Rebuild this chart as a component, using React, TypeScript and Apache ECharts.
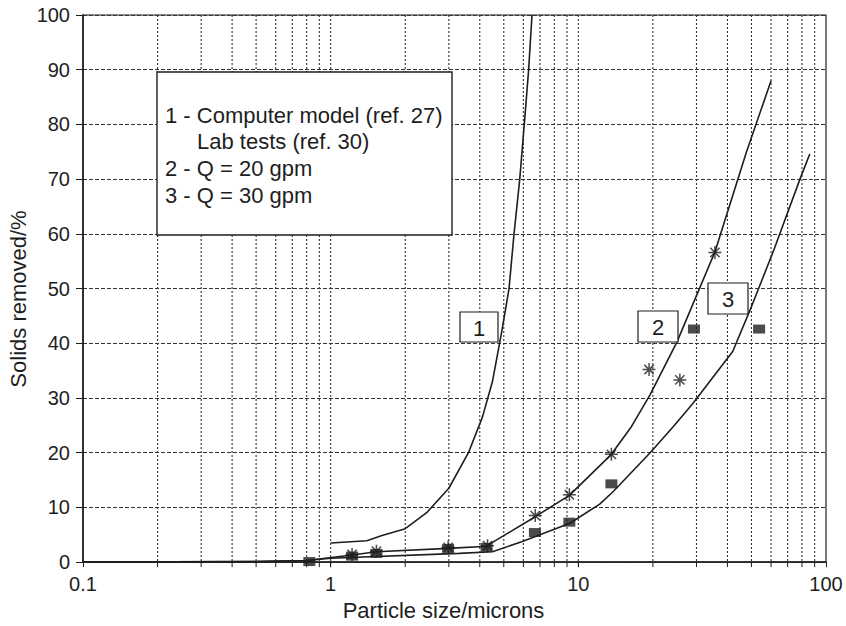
import React, { useEffect, useRef } from "react";
import * as echarts from "echarts";

// Curve 1 – computer model
const curve1X = [1, 1.4, 1.6, 2, 2.45, 3, 3.6, 4.1, 4.5, 4.9, 5.25, 5.5, 5.8, 6.05, 6.3, 6.5];
const curve1Y = [3.5, 3.9, 4.8, 6.1, 9.1, 13.5, 20, 26.5, 33, 42, 50, 60, 70, 80, 90, 100];

// Curve 2 – Q = 20 gpm
const curve2X = [0.1, 0.5, 0.8, 1.22, 1.53, 2.98, 4.3, 4.5, 6.7, 9.2, 13.6, 16.4, 19.5, 25, 35.6, 47.7, 60];
const curve2Y = [0, 0.1, 0.3, 1.3, 1.9, 2.5, 2.9, 3.6, 8.3, 12.2, 19.7, 24.8, 30.6, 40.2, 56.7, 74.9, 88];

// Curve 3 – Q = 30 gpm
const curve3X = [0.1, 0.5, 0.8, 1, 3.3, 4.5, 5.9, 9.25, 12.2, 13.9, 19.5, 24.2, 29, 42, 49.3, 62, 78.5, 86];
const curve3Y = [0, 0.1, 0.3, 0.7, 1.6, 1.9, 3.7, 7.1, 10.6, 13, 20, 24.8, 29, 38.5, 46, 57.4, 70, 74.6];

// Lab tests (ref. 30)
const starX = [1.22, 1.53, 2.98, 4.3, 6.7, 9.2, 13.6, 19.3, 25.7, 35.6];
const starY = [1.4, 2.0, 2.7, 3.0, 8.5, 12.3, 19.7, 35.2, 33.3, 56.6];
const squareX = [0.82, 1.22, 1.53, 2.98, 4.26, 6.68, 9.2, 13.6, 29.3, 53.7];
const squareY = [0.1, 1.1, 1.6, 2.5, 2.7, 5.4, 7.3, 14.3, 42.6, 42.6];

// Vertical (log) grid lines
const xGridValues = [0.2, 0.3, 0.4, 0.5, 0.6, 0.7, 0.8, 0.9, 1, 2, 3, 4, 5, 6, 7, 8, 9, 10, 20, 30, 40, 50, 60, 70, 80, 90];

const legendLines = [
  "1 - Computer model (ref. 27)",
  "Lab tests (ref. 30)",
  "2 - Q = 20 gpm",
  "3 - Q = 30 gpm",
];
const curveLabels = ["1", "2", "3"];
const yAxisTitle = "Solids removed/%";
const xAxisTitle = "Particle size/microns";

const FONT = "'Liberation Sans', Arial, Helvetica, sans-serif";
const INK = "#1e1e1e";

const zip = (xs: number[], ys: number[]) => xs.map((x, i) => [x, ys[i]]);

const starPath = "path://M0,-6L0,6M-6,0L6,0M-4.3,-4.3L4.3,4.3M-4.3,4.3L4.3,-4.3";

export default function App() {
  const ref = useRef<HTMLDivElement>(null);
  useEffect(() => {
    document.body.style.margin = "0";
    if (!ref.current) return;
    const chart = echarts.init(ref.current, null, { renderer: "svg" });
    const lineStyle = { color: INK, width: 1.6 };
    chart.setOption({
      animation: false,
      backgroundColor: "#ffffff",
      grid: {
        left: 83,
        right: 20,
        top: 15,
        bottom: 59,
        show: true,
        borderColor: INK,
        borderWidth: 1.2,
        backgroundColor: "transparent",
      },
      xAxis: {
        type: "log",
        logBase: 10,
        min: 0.1,
        max: 100,
        name: xAxisTitle,
        nameLocation: "middle",
        nameGap: 29,
        nameTextStyle: { fontFamily: FONT, fontSize: 22, color: INK, padding: [0, 22, 0, 0] },
        axisLine: { lineStyle: { color: INK, width: 1.6 } },
        axisTick: { show: true, length: 5, lineStyle: { color: INK } },
        axisLabel: {
          fontFamily: FONT,
          fontSize: 20,
          color: INK,
          margin: 12,
          formatter: (v: number) => String(v),
        },
        splitLine: { show: false },
        minorTick: { show: false },
      },
      yAxis: {
        type: "value",
        min: 0,
        max: 100,
        interval: 10,
        axisLine: { lineStyle: { color: INK, width: 1.6 } },
        axisTick: { show: true, length: 7, lineStyle: { color: INK } },
        axisLabel: { fontFamily: FONT, fontSize: 20, color: INK, margin: 13 },
        splitLine: { show: true, lineStyle: { color: "#333", width: 1.1, type: [4, 2] } },
      },
      graphic: [
        {
          type: "text",
          z: 101,
          x: 18,
          y: 299,
          rotation: Math.PI / 2,
          style: {
            text: yAxisTitle,
            fontFamily: FONT,
            fontSize: 22,
            fill: INK,
            align: "center",
            verticalAlign: "middle",
          },
        },
        {
          type: "rect",
          z: 100,
          shape: { x: 157, y: 72, width: 295, height: 163 },
          style: { fill: "#ffffff", stroke: INK, lineWidth: 1.4 },
        },
        ...legendLines.map((t, i) => ({
          type: "text",
          z: 101,
          x: i === 1 ? 197 : 165,
          y: 115 + i * 26.7,
          style: {
            text: t,
            fontFamily: FONT,
            fontSize: 22,
            fill: INK,
            verticalAlign: "middle",
            align: "left",
          },
        })),
        ...[
          { x: 460, y: 312, w: 38, h: 30 },
          { x: 638, y: 311, w: 40, h: 31 },
          { x: 708, y: 283, w: 40, h: 31 },
        ].map((b, i) => ({
          type: "group",
          z: 100,
          children: [
            {
              type: "rect",
              z: 100,
              shape: { x: b.x, y: b.y, width: b.w, height: b.h },
              style: { fill: "#ffffff", stroke: INK, lineWidth: 1.2 },
            },
            {
              type: "text",
              z: 101,
              x: b.x + b.w / 2,
              y: b.y + b.h / 2 + 1,
              style: {
                text: curveLabels[i],
                fontFamily: FONT,
                fontSize: 22,
                fill: INK,
                align: "center",
                verticalAlign: "middle",
              },
            },
          ],
        })),
      ],
      series: [
        {
          type: "custom",
          silent: true,
          clip: false,
          z: 1,
          encode: { x: 0, y: 1 },
          data: xGridValues.map((v) => [v, 0]),
          renderItem: (_params: any, api: any) => {
            const x = api.value(0);
            const top = api.coord([x, 100]);
            const bot = api.coord([x, 0]);
            return {
              type: "group",
              children: [
                {
                  type: "line",
                  shape: { x1: top[0], y1: top[1], x2: bot[0], y2: bot[1] },
                  style: { stroke: "#333", lineWidth: 1.1, lineDash: [2, 2] },
                },
                {
                  type: "line",
                  shape: { x1: bot[0], y1: bot[1], x2: bot[0], y2: bot[1] + 5 },
                  style: { stroke: INK, lineWidth: 1 },
                },
              ],
            };
          },
        },
        {
          type: "line",
          name: "1",
          data: zip(curve1X, curve1Y),
          showSymbol: false,
          lineStyle,
          z: 3,
        },
        {
          type: "line",
          name: "2",
          data: zip(curve2X, curve2Y),
          showSymbol: false,
          lineStyle,
          z: 3,
        },
        {
          type: "line",
          name: "3",
          data: zip(curve3X, curve3Y),
          showSymbol: false,
          lineStyle,
          z: 3,
        },
        {
          type: "scatter",
          name: "squares",
          data: zip(squareX, squareY),
          symbol: "rect",
          symbolSize: [12, 9],
          itemStyle: { color: INK },
          z: 4,
        },
        {
          type: "scatter",
          name: "stars",
          data: zip(starX, starY),
          symbol: starPath,
          symbolSize: 13,
          itemStyle: { color: "none", borderColor: INK, borderWidth: 1.5 },
          z: 5,
        },
      ],
    });
    return () => chart.dispose();
  }, []);
  return <div ref={ref} style={{ width: 846, height: 626 }} />;
}
